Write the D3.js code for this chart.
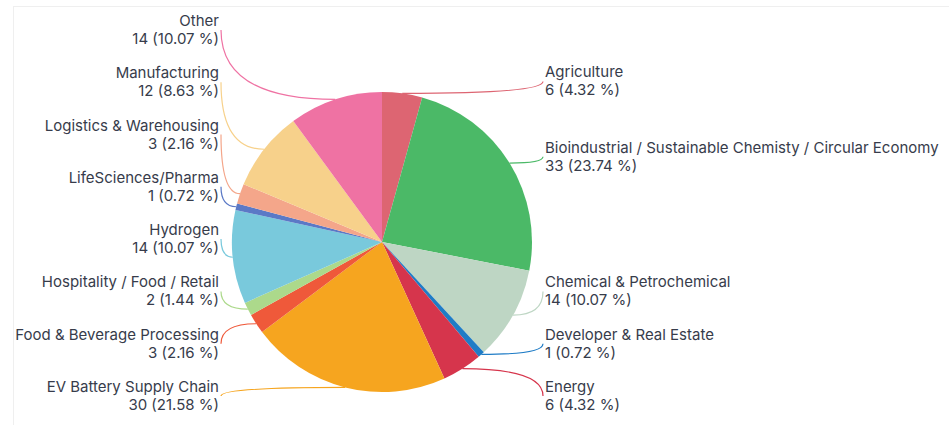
<!DOCTYPE html>
<html>
<head>
<meta charset="utf-8">
<script src="https://cdn.jsdelivr.net/npm/d3@7"></script>
<style>
  html, body { margin: 0; padding: 0; background: #ffffff; }
  svg { display: block; }
  text { font-family: Inter, "Noto Sans", sans-serif; font-size: 15px; fill: #373c4b; }
</style>
</head>
<body>
<svg id="chart" width="949" height="425"></svg>
<script>
// Companies by sector
const categories = [
  "Agriculture",
  "Bioindustrial / Sustainable Chemisty / Circular Economy",
  "Chemical & Petrochemical",
  "Developer & Real Estate",
  "Energy",
  "EV Battery Supply Chain",
  "Food & Beverage Processing",
  "Hospitality / Food / Retail",
  "Hydrogen",
  "LifeSciences/Pharma",
  "Logistics & Warehousing",
  "Manufacturing",
  "Other"
];
const values = [6, 33, 14, 1, 6, 30, 3, 2, 14, 1, 3, 12, 14];
const colors = [
  "#dd6572", "#4bb967", "#bed6c4", "#1f7cc6", "#d6354c", "#f6a51f",
  "#ef593a", "#acd98b", "#79c9dc", "#5b79c6", "#f4a68a", "#f7d18b", "#ef72a3"
];

const width = 949, height = 425;
const cx = 382, cy = 242, radius = 150;
const labelGap = 52.3, labelMinY = 30, labelMaxY = 396;
const leftX = 221, rightX = 543;

const svg = d3.select("#chart");

// light frame around the card
svg.append("rect")
  .attr("x", 13.5).attr("y", 6.5)
  .attr("width", width).attr("height", height)
  .attr("fill", "none").attr("stroke", "#efefef").attr("stroke-width", 1);

const total = d3.sum(values);
const pct = d3.format(".2f");

const pie = d3.pie().sort(null).value(d => d.value);
const arcs = pie(categories.map((name, i) => ({ name, value: values[i], color: colors[i] })));
const arc = d3.arc().innerRadius(0).outerRadius(radius);

const g = svg.append("g").attr("transform", `translate(${cx},${cy})`);
g.selectAll("path.slice")
  .data(arcs)
  .join("path")
  .attr("class", "slice")
  .attr("d", arc)
  .attr("fill", d => d.data.color);

// label anchor points
const pointAt = (a, r) => [cx + r * Math.sin(a), cy - r * Math.cos(a)];
arcs.forEach(d => {
  d.mid = (d.startAngle + d.endAngle) / 2;
  d.edge = pointAt(d.mid, radius);
  d.right = Math.sin(d.mid) >= 0;
  d.ly = pointAt(d.mid, radius * 1.08)[1];
});

// keep labels on each side apart vertically
function spread(list) {
  list.sort((a, b) => a.ly - b.ly);
  for (let i = 0; i < list.length; i++) {
    if (i === 0) list[i].ly = Math.max(list[i].ly, labelMinY);
    else list[i].ly = Math.max(list[i].ly, list[i - 1].ly + labelGap);
  }
  for (let i = list.length - 1; i >= 0; i--) {
    if (i === list.length - 1) list[i].ly = Math.min(list[i].ly, labelMaxY);
    else list[i].ly = Math.min(list[i].ly, list[i + 1].ly - labelGap);
  }
}
spread(arcs.filter(d => d.right));
spread(arcs.filter(d => !d.right));

// connectors
svg.append("g").selectAll("path")
  .data(arcs)
  .join("path")
  .attr("fill", "none")
  .attr("stroke", d => d.data.color)
  .attr("stroke-width", 1.2)
  .attr("d", d => {
    const lx = d.right ? rightX : leftX;
    const [px, py] = d.edge;
    return `M${px},${py} Q${lx},${py} ${lx},${d.ly}`;
  });

// labels: name on the first line, count and share below
const tx = d => d.right ? rightX + 2 : leftX - 2;
const labelGroup = svg.append("g");
labelGroup.selectAll("text.name")
  .data(arcs)
  .join("text")
  .attr("class", "name")
  .attr("text-anchor", d => d.right ? "start" : "end")
  .attr("x", tx)
  .attr("y", d => d.ly - 4)
  .text(d => d.data.name);
labelGroup.selectAll("text.value")
  .data(arcs)
  .join("text")
  .attr("class", "value")
  .attr("text-anchor", d => d.right ? "start" : "end")
  .attr("x", tx)
  .attr("y", d => d.ly + 14)
  .text(d => `${d.data.value} (${pct(d.data.value / total * 100)} %)`);
</script>
</body>
</html>
